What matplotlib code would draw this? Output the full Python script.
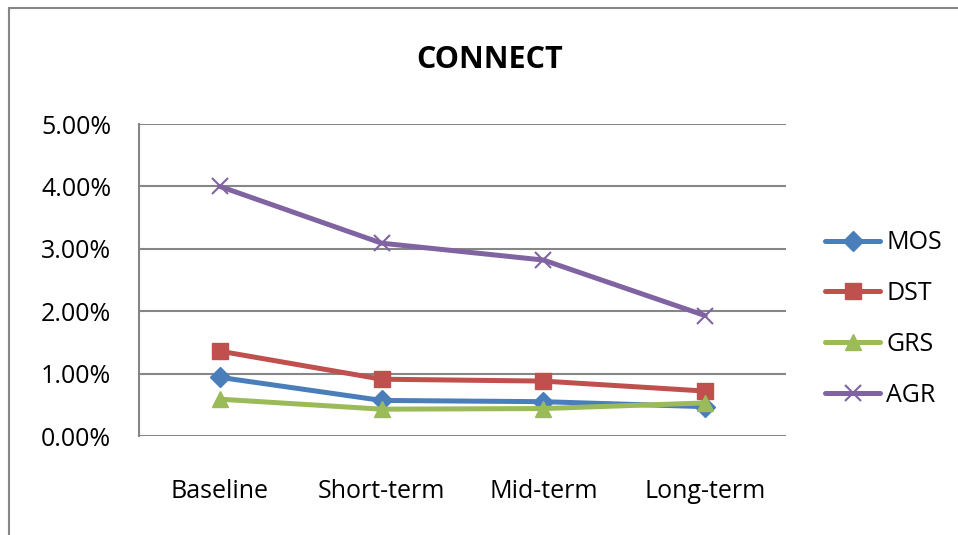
import numpy as np
import matplotlib.pyplot as plt
from matplotlib.patches import Rectangle
from matplotlib.ticker import FuncFormatter

plt.rcParams['font.family'] = ['Open Sans', 'DejaVu Sans']

periods = ['Baseline', 'Short-term', 'Mid-term', 'Long-term']
mos = [0.94, 0.57, 0.55, 0.47]
dst = [1.36, 0.91, 0.88, 0.72]
grs = [0.59, 0.43, 0.44, 0.53]
agr = [4.00, 3.09, 2.82, 1.93]

series = [
	('MOS', mos, '#4A7EBB', 'D', 10),
	('DST', dst, '#C0504D', 's', 12),
	('GRS', grs, '#9BBB59', '^', 12),
	('AGR', agr, '#8064A2', 'x', 12),
]

fig = plt.figure(figsize=(9.58, 5.35), dpi=100)
ax = fig.add_axes([139 / 958, 1 - 436 / 535, (786 - 139) / 958, (436 - 124) / 535])

# outer chart frame, cut off at right and bottom
fig.patches.append(Rectangle((9 / 958, -0.1), 1.2, 1 - 8 / 535 + 0.1,
	transform=fig.transFigure, fill=False, edgecolor='#868686', linewidth=1.5))

x = np.arange(len(periods))
for name, vals, col, mk, ms in series:
	ax.plot(x, vals, color=col, linewidth=3.6, marker=mk, markersize=ms,
		markeredgewidth=1.5 if mk == 'x' else 1, markeredgecolor=col,
		markerfacecolor=col, label=name, solid_capstyle='round')

ax.set_xlim(-0.5, 3.5)
ax.set_ylim(0, 5)
ax.set_yticks(np.arange(0, 5.01, 1))
ax.yaxis.set_major_formatter(FuncFormatter(lambda v, p: f'{v:.2f}%'))
ax.set_xticks(x)
ax.set_xticklabels(periods)
ax.grid(axis='y', color='#868686', linewidth=1.5)
ax.set_axisbelow(True)
for s in ['top', 'right', 'bottom']:
	ax.spines[s].set_visible(False)
ax.spines['left'].set_color('#868686')
ax.spines['left'].set_linewidth(1.5)
ax.tick_params(axis='y', length=0, pad=20, labelsize=18)
ax.tick_params(axis='x', length=0, pad=31, labelsize=18)

fig.text(490 / 958, 1 - 60 / 535, 'CONNECT', ha='center', va='center',
	fontsize=22, fontweight='bold')

fig.legend(loc='center left', bbox_to_anchor=(815 / 958, 1 - 319 / 535),
	frameon=False, fontsize=18, handlelength=2.2, handletextpad=0.25,
	labelspacing=1.03, borderaxespad=0)

fig.savefig('out.png', dpi=100)
